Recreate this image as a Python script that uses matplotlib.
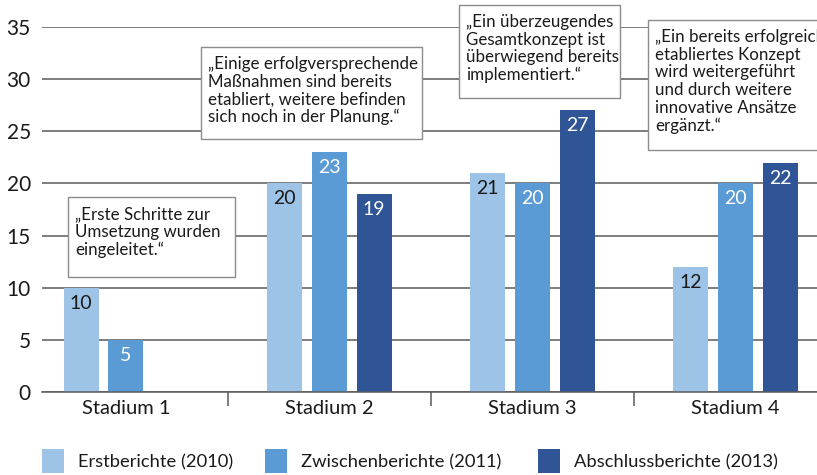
import matplotlib.pyplot as plt
import numpy as np
from matplotlib.patches import Rectangle

# Data
stadien = ["Stadium 1", "Stadium 2", "Stadium 3", "Stadium 4"]
serien = ["Erstberichte (2010)", "Zwischenberichte (2011)", "Abschlussberichte (2013)"]
erst = [10, 20, 21, 12]
zwischen = [5, 23, 20, 20]
abschluss = [None, 19, 27, 22]
zitate = [
    "\u201eErste Schritte zur\nUmsetzung wurden\neingeleitet.\u201c",
    "\u201eEinige erfolgversprechende\nMa\u00dfnahmen sind bereits\netabliert, weitere befinden\nsich noch in der Planung.\u201c",
    "\u201eEin \u00fcberzeugendes\nGesamtkonzept ist\n\u00fcberwiegend bereits\nimplementiert.\u201c",
    "\u201eEin bereits erfolgreich\netabliertes Konzept\nwird weitergef\u00fchrt\nund durch weitere\ninnovative Ans\u00e4tze\nerg\u00e4nzt.\u201c",
]

farben = ["#9dc3e6", "#5b9bd5", "#2f5597"]
textfarben = ["#1a1a1a", "white", "white"]

plt.rcParams['font.family'] = ['Lato', 'DejaVu Sans']

W, H = 817, 475
fig = plt.figure(figsize=(W / 100, H / 100), dpi=100)
ax = fig.add_axes([42 / W, 1 - 392 / H, 1 - 42 / W, (392 - 27) / H])

x = np.arange(len(stadien))
breite = 0.172
abstand = 0.221

for i, (werte, farbe, tf) in enumerate(zip([erst, zwischen, abschluss], farben, textfarben)):
    for xi, v in zip(x, werte):
        if v is None:
            continue
        pos = xi + (i - 1) * abstand
        ax.bar(pos, v, width=breite, color=farbe, zorder=2)
        ax.annotate(str(v), (pos, v), xytext=(0, -5), textcoords="offset points",
                    ha="center", va="top", fontsize=14, color=tf, zorder=3)

ax.set_xlim(-0.413, 3.40)
ax.set_ylim(0, 35)
ax.set_yticks(range(0, 36, 5))
ax.yaxis.grid(True, color="#5a5a5a", linewidth=1.1, zorder=0)
ax.set_axisbelow(True)
for s in ["top", "right", "left"]:
    ax.spines[s].set_visible(False)
ax.spines["bottom"].set_color("#5a5a5a")
ax.spines["bottom"].set_linewidth(1.1)
ax.tick_params(axis="y", length=0, labelsize=15, pad=8, labelcolor="#1a1a1a")
ax.set_xticks(x)
ax.set_xticklabels(stadien, fontsize=14.5, color="#1a1a1a")
ax.tick_params(axis="x", length=0, pad=6)
# Trennstriche zwischen den Gruppen
ax.set_xticks([0.5, 1.5, 2.5], minor=True)
ax.tick_params(axis="x", which="minor", length=10, width=1.1, color="#5a5a5a")


def px(xp, yp):
    return xp / W, 1 - yp / H


# Zitat-Kästen (Pixelpositionen)
kaesten = [(68, 197, 235, 277), (201, 47, 422, 139), (459, 5, 620, 98), (648, 20, 830, 150)]
for (x0, y0, x1, y1), t in zip(kaesten, zitate):
    fx, fy = px(x0, y1)
    fig.patches.append(Rectangle((fx, fy), (x1 - x0) / W, (y1 - y0) / H,
                                 transform=fig.transFigure, facecolor="white",
                                 edgecolor="#8c8c8c", linewidth=1.0, zorder=5))
    tx, ty = px(x0 + 7, y0 + 9)
    fig.text(tx, ty, t, ha="left", va="top", fontsize=12.2, color="#1a1a1a",
             linespacing=1.13, zorder=6)

# Legende von Hand
leg_x = [42, 265, 538]
for lx, f, name in zip(leg_x, farben, serien):
    fx, fy = px(lx, 473)
    fig.patches.append(Rectangle((fx, fy), 22 / W, 24 / H, transform=fig.transFigure,
                                 facecolor=f, edgecolor="none"))
    tx, ty = px(lx + 36, 462)
    fig.text(tx, ty, name, ha="left", va="center", fontsize=13.2, color="#1a1a1a")

fig.savefig("out.png", dpi=100)
